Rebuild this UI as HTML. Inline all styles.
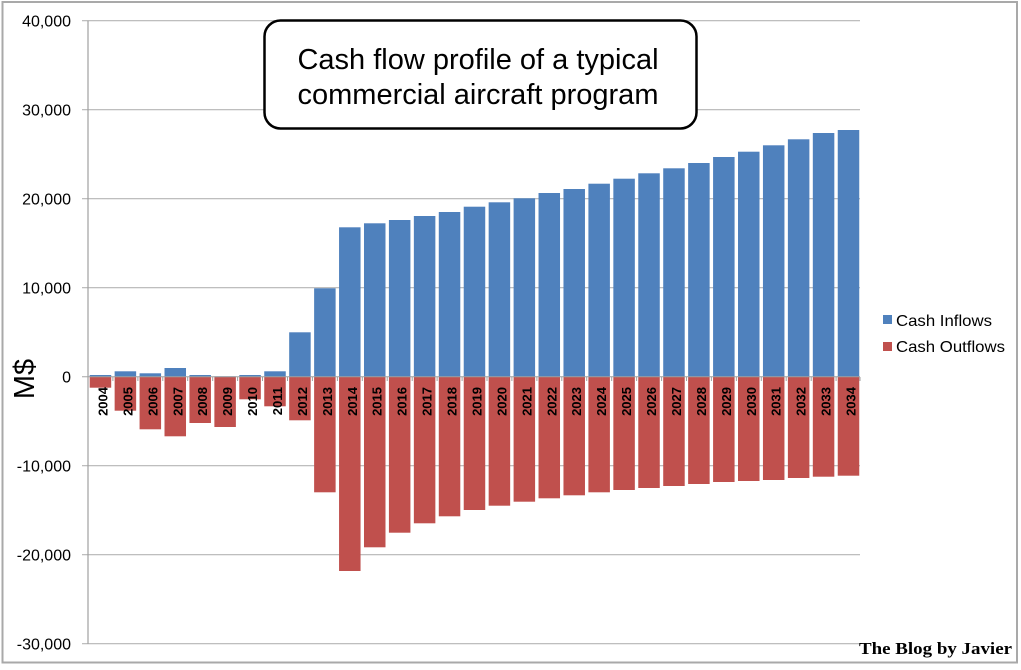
<!DOCTYPE html>
<html><head><meta charset="utf-8"><style>
html,body{margin:0;padding:0;background:#fff;}
svg{display:block;}
text{font-family:"Liberation Sans",Arial,sans-serif;}
</style></head><body>
<svg width="1021" height="670" viewBox="0 0 1021 670" xmlns="http://www.w3.org/2000/svg">
<rect x="0" y="0" width="1021" height="670" fill="#fff"/>
<rect x="2.5" y="2" width="1014.5" height="660.5" fill="none" stroke="#a9a9a9" stroke-width="2"/>
<!-- gridlines -->
<g stroke="#b4b4b4" stroke-width="1.2">
<line x1="82" y1="20.7" x2="860" y2="20.7"/>
<line x1="82" y1="109.7" x2="860" y2="109.7"/>
<line x1="82" y1="198.7" x2="860" y2="198.7"/>
<line x1="82" y1="287.7" x2="860" y2="287.7"/>
<line x1="82" y1="465.7" x2="860" y2="465.7"/>
<line x1="82" y1="554.7" x2="860" y2="554.7"/>
<line x1="82" y1="643.7" x2="860" y2="643.7"/>
<line x1="82" y1="376.7" x2="88" y2="376.7"/>
</g>
<line x1="88" y1="20.7" x2="88" y2="643.7" stroke="#a0a0a0" stroke-width="1.2"/>
<!-- y labels -->
<g font-size="16" fill="#000" text-anchor="end">
<text x="71" y="26.5">40,000</text>
<text x="71" y="115.5">30,000</text>
<text x="71" y="204.5">20,000</text>
<text x="71" y="293.5">10,000</text>
<text x="71" y="382.5">0</text>
<text x="71" y="471.5">-10,000</text>
<text x="71" y="560.5">-20,000</text>
<text x="71" y="649.5">-30,000</text>
</g>
<text transform="translate(34,379) rotate(-90)" font-size="29" text-anchor="middle" fill="#000">M$</text>
<!-- inflow bars -->
<g fill="#4f81bd">
<rect x="89.70" y="375.0" width="21.5" height="1.8"/>
<rect x="114.64" y="371.3" width="21.5" height="5.5"/>
<rect x="139.57" y="373.3" width="21.5" height="3.5"/>
<rect x="164.51" y="368.0" width="21.5" height="8.8"/>
<rect x="189.44" y="375.0" width="21.5" height="1.8"/>
<rect x="214.38" y="376.3" width="21.5" height="0.5"/>
<rect x="239.31" y="375.0" width="21.5" height="1.8"/>
<rect x="264.25" y="371.3" width="21.5" height="5.5"/>
<rect x="289.18" y="332.3" width="21.5" height="44.5"/>
<rect x="314.12" y="288.3" width="21.5" height="88.5"/>
<rect x="339.05" y="227.3" width="21.5" height="149.5"/>
<rect x="363.99" y="223.3" width="21.5" height="153.5"/>
<rect x="388.92" y="220.0" width="21.5" height="156.8"/>
<rect x="413.86" y="216.0" width="21.5" height="160.8"/>
<rect x="438.79" y="212.0" width="21.5" height="164.8"/>
<rect x="463.73" y="206.7" width="21.5" height="170.1"/>
<rect x="488.66" y="202.3" width="21.5" height="174.5"/>
<rect x="513.60" y="198.3" width="21.5" height="178.5"/>
<rect x="538.53" y="193.0" width="21.5" height="183.8"/>
<rect x="563.47" y="189.0" width="21.5" height="187.8"/>
<rect x="588.40" y="183.7" width="21.5" height="193.1"/>
<rect x="613.34" y="178.7" width="21.5" height="198.1"/>
<rect x="638.27" y="173.3" width="21.5" height="203.5"/>
<rect x="663.21" y="168.3" width="21.5" height="208.5"/>
<rect x="688.14" y="163.0" width="21.5" height="213.8"/>
<rect x="713.08" y="157.0" width="21.5" height="219.8"/>
<rect x="738.01" y="151.7" width="21.5" height="225.1"/>
<rect x="762.95" y="145.3" width="21.5" height="231.5"/>
<rect x="787.88" y="139.3" width="21.5" height="237.5"/>
<rect x="812.82" y="133.0" width="21.5" height="243.8"/>
<rect x="837.75" y="130.0" width="21.5" height="246.8"/>
</g>
<!-- outflow bars -->
<g fill="#c0504d">
<rect x="89.70" y="376.8" width="21.5" height="10.9"/>
<rect x="114.64" y="376.8" width="21.5" height="33.9"/>
<rect x="139.57" y="376.8" width="21.5" height="52.5"/>
<rect x="164.51" y="376.8" width="21.5" height="59.5"/>
<rect x="189.44" y="376.8" width="21.5" height="46.2"/>
<rect x="214.38" y="376.8" width="21.5" height="50.2"/>
<rect x="239.31" y="376.8" width="21.5" height="22.5"/>
<rect x="264.25" y="376.8" width="21.5" height="29.5"/>
<rect x="289.18" y="376.8" width="21.5" height="43.5"/>
<rect x="314.12" y="376.8" width="21.5" height="115.5"/>
<rect x="339.05" y="376.8" width="21.5" height="194.2"/>
<rect x="363.99" y="376.8" width="21.5" height="170.5"/>
<rect x="388.92" y="376.8" width="21.5" height="155.9"/>
<rect x="413.86" y="376.8" width="21.5" height="146.5"/>
<rect x="438.79" y="376.8" width="21.5" height="139.5"/>
<rect x="463.73" y="376.8" width="21.5" height="133.2"/>
<rect x="488.66" y="376.8" width="21.5" height="128.9"/>
<rect x="513.60" y="376.8" width="21.5" height="124.9"/>
<rect x="538.53" y="376.8" width="21.5" height="121.5"/>
<rect x="563.47" y="376.8" width="21.5" height="118.5"/>
<rect x="588.40" y="376.8" width="21.5" height="115.5"/>
<rect x="613.34" y="376.8" width="21.5" height="113.2"/>
<rect x="638.27" y="376.8" width="21.5" height="111.2"/>
<rect x="663.21" y="376.8" width="21.5" height="109.2"/>
<rect x="688.14" y="376.8" width="21.5" height="107.2"/>
<rect x="713.08" y="376.8" width="21.5" height="105.2"/>
<rect x="738.01" y="376.8" width="21.5" height="104.2"/>
<rect x="762.95" y="376.8" width="21.5" height="103.2"/>
<rect x="787.88" y="376.8" width="21.5" height="101.2"/>
<rect x="812.82" y="376.8" width="21.5" height="99.9"/>
<rect x="837.75" y="376.8" width="21.5" height="98.9"/>
</g>
<!-- x axis -->
<line x1="88" y1="376.7" x2="860" y2="376.7" stroke="#a0a0a0" stroke-width="1"/>
<g stroke="#a0a0a0" stroke-width="1">
<path d="M112.9 377v4M137.9 377v4M162.8 377v4M187.7 377v4M212.7 377v4M237.6 377v4M262.5 377v4M287.5 377v4M312.4 377v4M337.4 377v4M362.3 377v4M387.2 377v4M412.2 377v4M437.1 377v4M462.1 377v4M487.0 377v4M511.9 377v4M536.9 377v4M561.8 377v4M586.7 377v4M611.7 377v4M636.6 377v4M661.6 377v4M686.5 377v4M711.4 377v4M736.4 377v4M761.3 377v4M786.2 377v4M811.2 377v4M836.1 377v4M860 377v4"/>
</g>
<!-- year labels -->
<g font-size="13" font-weight="bold" fill="#000" text-anchor="end">
<text transform="translate(107.45,387) rotate(-90)">2004</text>
<text transform="translate(132.39,387) rotate(-90)">2005</text>
<text transform="translate(157.32,387) rotate(-90)">2006</text>
<text transform="translate(182.26,387) rotate(-90)">2007</text>
<text transform="translate(207.19,387) rotate(-90)">2008</text>
<text transform="translate(232.13,387) rotate(-90)">2009</text>
<text transform="translate(257.06,387) rotate(-90)">2010</text>
<text transform="translate(282.00,387) rotate(-90)">2011</text>
<text transform="translate(306.93,387) rotate(-90)">2012</text>
<text transform="translate(331.87,387) rotate(-90)">2013</text>
<text transform="translate(356.80,387) rotate(-90)">2014</text>
<text transform="translate(381.74,387) rotate(-90)">2015</text>
<text transform="translate(406.67,387) rotate(-90)">2016</text>
<text transform="translate(431.61,387) rotate(-90)">2017</text>
<text transform="translate(456.54,387) rotate(-90)">2018</text>
<text transform="translate(481.48,387) rotate(-90)">2019</text>
<text transform="translate(506.41,387) rotate(-90)">2020</text>
<text transform="translate(531.35,387) rotate(-90)">2021</text>
<text transform="translate(556.28,387) rotate(-90)">2022</text>
<text transform="translate(581.22,387) rotate(-90)">2023</text>
<text transform="translate(606.15,387) rotate(-90)">2024</text>
<text transform="translate(631.09,387) rotate(-90)">2025</text>
<text transform="translate(656.02,387) rotate(-90)">2026</text>
<text transform="translate(680.96,387) rotate(-90)">2027</text>
<text transform="translate(705.89,387) rotate(-90)">2028</text>
<text transform="translate(730.83,387) rotate(-90)">2029</text>
<text transform="translate(755.76,387) rotate(-90)">2030</text>
<text transform="translate(780.70,387) rotate(-90)">2031</text>
<text transform="translate(805.63,387) rotate(-90)">2032</text>
<text transform="translate(830.57,387) rotate(-90)">2033</text>
<text transform="translate(855.50,387) rotate(-90)">2034</text>
</g>
<!-- legend -->
<rect x="883" y="315" width="9" height="9" fill="#4f81bd"/>
<rect x="883" y="342" width="9" height="9" fill="#c0504d"/>
<g font-size="16" fill="#000">
<text x="896" y="326" textLength="96" lengthAdjust="spacingAndGlyphs">Cash Inflows</text>
<text x="896" y="352" textLength="109" lengthAdjust="spacingAndGlyphs">Cash Outflows</text>
</g>
<!-- title box -->
<rect x="264.5" y="20.5" width="432" height="108" rx="16" ry="16" fill="#fff" stroke="#000" stroke-width="2.5"/>
<g font-size="29" fill="#000" text-anchor="middle">
<text x="478" y="69">Cash flow profile of a typical</text>
<text x="478" y="104">commercial aircraft program</text>
</g>
<!-- watermark -->
<text x="859" y="654" style="font-family:'Liberation Serif',serif;font-weight:bold;font-size:17px" fill="#000" textLength="153" lengthAdjust="spacingAndGlyphs">The Blog by Javier</text>
</svg>
</body></html>
